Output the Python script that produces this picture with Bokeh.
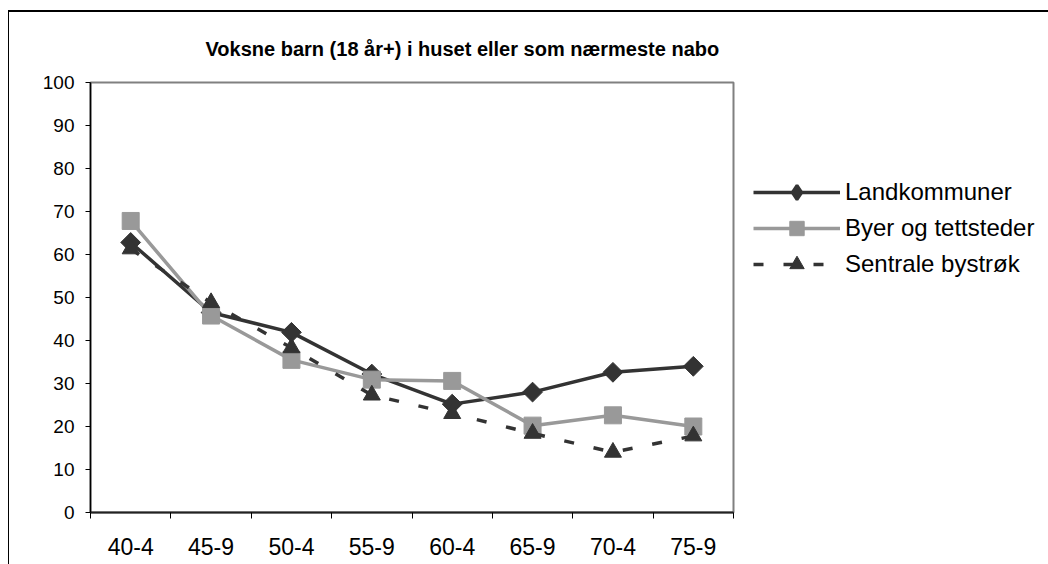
import numpy as np
from bokeh.plotting import figure
from bokeh.models import Range1d, FixedTicker, Legend, LegendItem, Title
from bokeh.embed import file_html
from bokeh.resources import INLINE

# Age groups (five-year bands) and share (%) with adult children living in the house or next door
age_groups = ["40-4", "45-9", "50-4", "55-9", "60-4", "65-9", "70-4", "75-9"]
landkommuner = [62.8, 46.5, 41.9, 32.2, 25.2, 28.0, 32.6, 34.0]
byer_tettsteder = [67.8, 45.8, 35.5, 30.9, 30.6, 20.2, 22.6, 20.0]
sentrale_bystrok = [61.3, 48.8, 38.3, 27.3, 23.0, 18.4, 14.0, 17.8]
y_ticks = [0, 10, 20, 30, 40, 50, 60, 70, 80, 90, 100]

FONT = "Liberation Sans"
DARK = "#333333"
GREY = "#999999"

# category centres sit between integer boundaries, which carry the tick marks
xc = [i + 0.5 for i in range(len(age_groups))]

p = figure(
    frame_width=643, frame_height=430,
    x_range=Range1d(0, len(age_groups)), y_range=Range1d(0, 100),
    output_backend="svg", toolbar_location=None,
    min_border_left=81, min_border_right=0,
    min_border_top=70, min_border_bottom=52,
)
p.styles = {
    "margin-left": "8px", "margin-top": "10px",
    "border-left": "1px solid #000", "border-top": "2px solid #000",
}

p.title = Title(text="Voksne barn (18 år+) i huset eller som nærmeste nabo",
                text_font=FONT, text_font_size="20px", text_font_style="bold",
                text_color="#000000", align="left", offset=115, standoff=45)

p.xgrid.visible = False
p.ygrid.visible = False
p.outline_line_color = "#808080"
p.outline_line_width = 2
p.background_fill_color = "white"
p.border_fill_color = "white"

# y axis
p.yaxis.ticker = FixedTicker(ticks=y_ticks, minor_ticks=[])
p.yaxis.axis_line_color = "#000000"
p.yaxis.axis_line_width = 1.5
p.yaxis.major_tick_line_color = "#000000"
p.yaxis.major_tick_out = 5
p.yaxis.major_tick_in = 0
p.yaxis.minor_tick_line_color = None
p.yaxis.major_label_standoff = 11
p.yaxis.major_label_text_font = FONT
p.yaxis.major_label_text_font_size = "19px"
p.yaxis.major_label_text_color = "#000000"

# x axis: labels at centres, tick marks at boundaries
p.xaxis.ticker = FixedTicker(ticks=xc, minor_ticks=list(range(len(age_groups) + 1)))
p.xaxis.major_label_overrides = {x: lab for x, lab in zip(xc, age_groups)}
p.xaxis.major_tick_line_color = None
p.xaxis.minor_tick_line_color = "#000000"
p.xaxis.minor_tick_out = 6
p.xaxis.minor_tick_in = 0
p.xaxis.axis_line_color = "#222222"
p.xaxis.axis_line_width = 2
p.xaxis.major_label_standoff = 19
p.xaxis.major_label_text_font = FONT
p.xaxis.major_label_text_font_size = "23px"
p.xaxis.major_label_text_color = "#000000"

# series
l1 = p.line(xc, landkommuner, line_color=DARK, line_width=3.5)
m1 = p.scatter(xc, landkommuner, marker="square", angle=np.pi / 4, size=14,
               fill_color=DARK, line_color=DARK)
# legend swatch for the rotated-square markers (legend swatches ignore angle);
# its single point lies outside the visible ranges
m1_key = p.scatter(x=[-5], y=[-50], marker="diamond", size=14,
                   fill_color=DARK, line_color=DARK, line_width=3)

l2 = p.line(xc, byer_tettsteder, line_color=GREY, line_width=3.5)
m2 = p.scatter(xc, byer_tettsteder, marker="square", size=17,
               fill_color=GREY, line_color=GREY)

l3 = p.line(xc, sentrale_bystrok, line_color=DARK, line_width=3.5, line_dash="10 20")
m3 = p.scatter(xc, sentrale_bystrok, marker="triangle", size=17,
               fill_color=DARK, line_color=DARK)

legend = Legend(
    items=[
        LegendItem(label="Landkommuner", renderers=[l1, m1_key]),
        LegendItem(label="Byer og tettsteder", renderers=[l2, m2]),
        LegendItem(label="Sentrale bystrøk", renderers=[l3, m3]),
    ],
    location=(20, 230),
    glyph_width=87, glyph_height=36, label_height=36, spacing=0,
    label_standoff=5, padding=0, margin=0,
    border_line_color=None, background_fill_alpha=0,
    label_text_font=FONT, label_text_font_size="24px", label_text_color="#000000",
)
p.add_layout(legend, "right")

open("out.html", "w").write(file_html(p, INLINE))
